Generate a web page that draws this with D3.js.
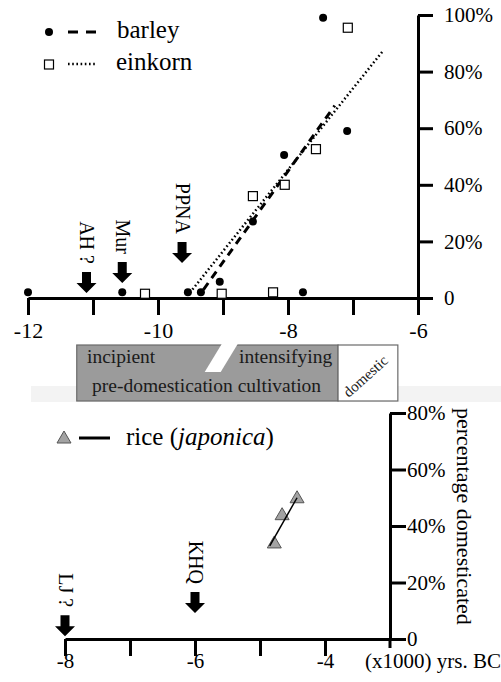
<!DOCTYPE html>
<html>
<head>
    <meta charset='utf-8'>
    <title>Domestication rates</title>
    <script src='https://cdn.jsdelivr.net/npm/d3@7/dist/d3.min.js'></script>
    <style>
        body { margin: 0; background: #fff; }
        svg text { font-family: 'Liberation Serif', 'Times New Roman', serif; }
    </style>
</head>
<body>
    <svg width='501' height='682'></svg>
    <script>
        // ---- data (thousands of years, percent domesticated) ----
        const barleyYears = [-12, -10.55, -9.54, -9.34, -9.05, -8.54, -8.06, -7.77, -7.46, -7.09]
        const barleyPct = [2, 2, 2, 2, 5.7, 27, 50.5, 2, 99, 59]
        const einkornYears = [-10.2, -9.02, -8.23, -8.54, -8.05, -7.57, -7.08]
        const einkornPct = [1.5, 1.5, 2, 36, 40, 52.6, 95.5]
        const barleyFit = [[-9.3, 3], [-7.28, 68]]
        const einkornFit = [[-9.47, 3], [-6.55, 87]]

        const riceYears = [-4.78, -4.66, -4.43]
        const ricePct = [34, 44, 50]
        const riceFit = [[-4.85, 33], [-4.43, 50]]

        const topArrows = [{ label: 'AH ?', year: -11.1, tip: 1.8 }, { label: 'Mur', year: -10.55, tip: 5.3 }, { label: 'PPNA', year: -9.63, tip: 12.4 }]
        const botArrows = [{ label: 'LJ ?', year: -8, tip: 1 }, { label: 'KHQ', year: -6, tip: 9.2 }]

        const topTicks = [-12, -11, -10, -9, -8, -7, -6]
        const topTickLabels = [-12, -10, -8, -6]
        const botTicks = [-8, -7, -6, -5, -4]
        const botTickLabels = [-8, -6, -4]
        const topPctTicks = [0, 20, 40, 60, 80, 100]
        const botPctTicks = [0, 20, 40, 60, 80]

        // phase bar: start, slash, end of cultivation, end of domestic box
        const phaseEdges = [-11.25, -9.02, -7.23, -6.31]

        const SERIF = "'Liberation Serif', 'Times New Roman', serif"
        const svg = d3.select('svg').attr('font-family', SERIF)

        const xTop = d3.scaleLinear().domain([-12, -6]).range([28, 418])
        const yTop = d3.scaleLinear().domain([0, 100]).range([298, 15])
        const xBot = d3.scaleLinear().domain([-8, -3]).range([65, 390])
        const yBot = d3.scaleLinear().domain([0, 80]).range([639, 413])

        const pctFmt = d => d === 0 ? '0' : d + '%'

        function styleAxis(g, size) {
            g.attr('font-family', SERIF).attr('font-size', size)
            g.selectAll('path, line').attr('stroke', '#000').attr('stroke-width', 3)
            g.selectAll('text').attr('fill', '#000').attr('font-family', SERIF)
        }

        // ---- top chart axes ----
        svg.append('g')
            .attr('transform', `translate(0,${yTop(0)})`)
            .call(d3.axisBottom(xTop).tickValues(topTicks).tickSize(17).tickSizeOuter(0)
                .tickFormat(d => topTickLabels.includes(d) ? d : ''))
            .call(g => styleAxis(g, 22))
            .call(g => g.selectAll('text').attr('y', 40).attr('dy', 0))

        svg.append('g')
            .attr('transform', `translate(${xTop(-6)},0)`)
            .call(d3.axisRight(yTop).tickValues(topPctTicks).tickSize(15).tickSizeOuter(0)
                .tickPadding(11).tickFormat(pctFmt))
            .call(g => styleAxis(g, 21))

        // ---- fit lines ----
        const lineTop = d3.line().x(d => xTop(d[0])).y(d => yTop(d[1]))
        svg.append('path').attr('d', lineTop(barleyFit))
            .attr('fill', 'none').attr('stroke', '#000').attr('stroke-width', 3)
            .attr('stroke-dasharray', '8,6')
        svg.append('path').attr('d', lineTop(einkornFit))
            .attr('fill', 'none').attr('stroke', '#000').attr('stroke-width', 2.5)
            .attr('stroke-dasharray', '1.6,2.6')

        // ---- points ----
        svg.append('g').selectAll('circle')
            .data(barleyYears.map((y, i) => [y, barleyPct[i]]))
            .join('circle')
            .attr('cx', d => xTop(d[0])).attr('cy', d => yTop(d[1]))
            .attr('r', 4).attr('fill', '#000')

        svg.append('g').selectAll('rect')
            .data(einkornYears.map((y, i) => [y, einkornPct[i]]))
            .join('rect')
            .attr('x', d => xTop(d[0]) - 4.5).attr('y', d => yTop(d[1]) - 4.5)
            .attr('width', 9).attr('height', 9)
            .attr('fill', '#fff').attr('stroke', '#000').attr('stroke-width', 1.2)

        // ---- arrows ----
        function arrowPath(cx, tip) {
            return `M${cx - 4.5},${tip - 21}H${cx + 4.5}V${tip - 10}H${cx + 10}L${cx},${tip}L${cx - 10},${tip - 10}H${cx - 4.5}Z`
        }
        function drawArrows(list, x, y) {
            const g = svg.append('g')
            list.forEach(a => {
                const cx = x(a.year), tip = y(a.tip)
                g.append('path').attr('d', arrowPath(cx, tip)).attr('fill', '#000')
                g.append('text')
                    .attr('transform', `translate(${cx - 6.5},${tip - 29}) rotate(90)`)
                    .attr('text-anchor', 'end').attr('font-size', 20)
                    .text(a.label)
            })
        }
        drawArrows(topArrows, xTop, yTop)

        // ---- top legend ----
        const legTop = svg.append('g').attr('font-size', 25)
        legTop.append('circle').attr('cx', 49).attr('cy', 32).attr('r', 4)
        legTop.append('line').attr('x1', 68).attr('x2', 97).attr('y1', 32).attr('y2', 32)
            .attr('stroke', '#000').attr('stroke-width', 3).attr('stroke-dasharray', '10,8')
        legTop.append('text').attr('x', 117).attr('y', 38).text('barley')
        legTop.append('rect').attr('x', 44.5).attr('y', 60).attr('width', 9).attr('height', 9)
            .attr('fill', '#fff').attr('stroke', '#000').attr('stroke-width', 1.2)
        legTop.append('line').attr('x1', 68).attr('x2', 97).attr('y1', 64).attr('y2', 64)
            .attr('stroke', '#000').attr('stroke-width', 2.5).attr('stroke-dasharray', '1.6,2.6')
        legTop.append('text').attr('x', 116).attr('y', 70).text('einkorn')

        // ---- phase bar ----
        svg.append('rect').attr('x', 31).attr('y', 386).attr('width', 470).attr('height', 16)
            .attr('fill', '#f3f3f3')
        const barTop = 345, barBot = 401
        svg.append('rect')
            .attr('x', xTop(phaseEdges[0])).attr('y', barTop)
            .attr('width', xTop(phaseEdges[2]) - xTop(phaseEdges[0])).attr('height', barBot - barTop)
            .attr('fill', '#9b9b9b').attr('stroke', '#6a6a6a').attr('stroke-width', 1.2)
        const sx = xTop(phaseEdges[1])
        svg.append('path')
            .attr('d', `M${sx},${barTop - 1}H${sx + 16}L${sx - 1},${barTop + 27}H${sx - 17}Z`)
            .attr('fill', '#fff')
        svg.append('rect')
            .attr('x', xTop(phaseEdges[2])).attr('y', barTop)
            .attr('width', xTop(phaseEdges[3]) - xTop(phaseEdges[2])).attr('height', barBot - barTop)
            .attr('fill', '#fff').attr('stroke', '#6a6a6a').attr('stroke-width', 1.2)

        const barText = svg.append('g').attr('font-size', 19.5).attr('fill', '#1a1a1a')
        barText.append('text').attr('x', 87).attr('y', 363).text('incipient')
        barText.append('text').attr('x', 239).attr('y', 363).text('intensifying')
        barText.append('text').attr('x', 92).attr('y', 392).text('pre-domestication cultivation')
        const domX = (xTop(phaseEdges[2]) + xTop(phaseEdges[3])) / 2 + 1
        barText.append('text')
            .attr('x', 0).attr('y', 0)
            .attr('transform', `translate(${domX},380) rotate(-42)`)
            .attr('text-anchor', 'middle').attr('font-size', 15).text('domestic')

        // ---- bottom chart axes ----
        svg.append('g')
            .attr('transform', `translate(0,${yBot(0)})`)
            .call(d3.axisBottom(xBot).tickValues(botTicks).tickSize(17).tickSizeOuter(0)
                .tickFormat(d => botTickLabels.includes(d) ? d : ''))
            .call(g => styleAxis(g, 21))
            .call(g => g.selectAll('text').attr('y', 29).attr('dy', 0))

        svg.append('g')
            .attr('transform', `translate(${xBot(-3)},0)`)
            .call(d3.axisRight(yBot).tickValues(botPctTicks).tickSize(16).tickSizeOuter(0)
                .tickPadding(1).tickFormat(pctFmt))
            .call(g => styleAxis(g, 21))
        svg.append('line').attr('x1', xBot(-3)).attr('x2', xBot(-3))
            .attr('y1', yBot(0)).attr('y2', yBot(0) + 9)
            .attr('stroke', '#000').attr('stroke-width', 3)

        svg.append('text').attr('x', 501).attr('y', 668).attr('text-anchor', 'end')
            .attr('font-size', 21).text('(x1000) yrs. BC')
        svg.append('text')
            .attr('transform', 'translate(457,408) rotate(90)')
            .attr('font-size', 22).text('percentage domesticated')

        // ---- rice ----
        const tri = 'M0,-7L7,5H-7Z'
        svg.append('g').selectAll('path')
            .data(riceYears.map((y, i) => [y, ricePct[i]]))
            .join('path')
            .attr('transform', d => `translate(${xBot(d[0])},${yBot(d[1])})`)
            .attr('d', tri).attr('fill', '#a3a3a3').attr('stroke', '#555').attr('stroke-width', 1)
        const lineBot = d3.line().x(d => xBot(d[0])).y(d => yBot(d[1]))
        svg.append('path').attr('d', lineBot(riceFit))
            .attr('fill', 'none').attr('stroke', '#000').attr('stroke-width', 1.5)

        drawArrows(botArrows, xBot, yBot)

        // ---- bottom legend ----
        const legBot = svg.append('g').attr('font-size', 25)
        legBot.append('path').attr('transform', 'translate(64,438)').attr('d', tri)
            .attr('fill', '#a3a3a3').attr('stroke', '#555').attr('stroke-width', 1)
        legBot.append('line').attr('x1', 79).attr('x2', 110).attr('y1', 438).attr('y2', 438)
            .attr('stroke', '#000').attr('stroke-width', 3)
        const riceLabel = legBot.append('text').attr('x', 126).attr('y', 445)
        riceLabel.append('tspan').text('rice (')
        riceLabel.append('tspan').attr('font-style', 'italic').text('japonica')
        riceLabel.append('tspan').text(')')
    </script>
</body>
</html>
